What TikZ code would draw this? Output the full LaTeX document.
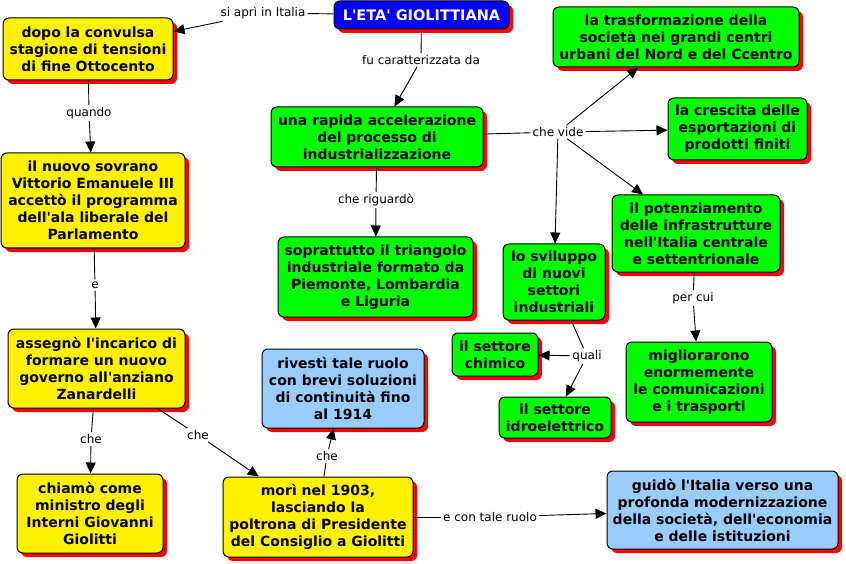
\documentclass[tikz,border=0pt]{standalone}
\usepackage{fontspec}
\setmainfont{DejaVu Sans}[Ligatures=TeXOff]
\usetikzlibrary{arrows.meta,shadows}

\begin{document}
\begin{tikzpicture}[x=1pt,y=-1pt,
    concept/.style={draw=black, line width=1pt, rounded corners=6pt, align=center,
      font=\fontsize{14}{17}\selectfont\bfseries, inner sep=1pt,
      general shadow={fill=red, draw=none, shadow xshift=4pt, shadow yshift=-4pt}},
    yellowbox/.style={concept, fill=yellow},
    greenbox/.style={concept, fill=green},
    skybox/.style={concept, fill={rgb,255:red,153;green,204;blue,255}},
    linkword/.style={font=\fontsize{12}{14}\selectfont, inner sep=2pt},
    conn/.style={line width=0.9pt},
    arr/.style={conn, -{Triangle[length=11pt,width=10pt]}}]
  \useasboundingbox (0,0) rectangle (846,564);

  % concepts
  \node[concept, fill=blue, text=white, minimum width=175pt, minimum height=28pt, font=\fontsize{14.5}{17}\selectfont\bfseries] (eta) at (421.5,15) {L'ETA' GIOLITTIANA};
  \node[yellowbox, minimum width=170pt, minimum height=62pt] (dopo) at (88,49) {dopo la convulsa\\stagione di tensioni\\di fine Ottocento};
  \node[yellowbox, minimum width=184pt, minimum height=95pt] (sovrano) at (93,200.5) {il nuovo sovrano\\Vittorio Emanuele III\\accettò il programma\\dell'ala liberale del\\Parlamento};
  \node[yellowbox, minimum width=177pt, minimum height=79pt] (incarico) at (96.5,368.5) {assegnò l'incarico di\\formare un nuovo\\governo all'anziano\\Zanardelli};
  \node[yellowbox, minimum width=146pt, minimum height=79pt] (chiamo) at (90,513.5) {chiamò come\\ministro degli\\Interni Giovanni\\Giolitti};
  \node[yellowbox, minimum width=190pt, minimum height=80pt] (mori) at (318,517) {morì nel 1903,\\lasciando la\\poltrona di Presidente\\del Consiglio a Giolitti};
  \node[skybox, minimum width=162pt, minimum height=79pt] (rivesti) at (343,388.5) {rivestì tale ruolo\\con brevi soluzioni\\di continuità fino\\al 1914};
  \node[skybox, minimum width=231pt, minimum height=78pt] (guido) at (722.5,510) {guidò l'Italia verso una\\profonda modernizzazione\\della società, dell'economia\\e delle istituzioni};
  \node[greenbox, minimum width=212pt, minimum height=60pt] (rapida) at (377,137) {una rapida accelerazione\\del processo di\\industrializzazione};
  \node[greenbox, minimum width=195pt, minimum height=80pt] (triangolo) at (375.5,277) {soprattutto il triangolo\\industriale formato da\\Piemonte, Lombardia\\e Liguria};
  \node[greenbox, minimum width=246pt, minimum height=60pt] (trasf) at (676,37) {la trasformazione della\\società nei grandi centri\\urbani del Nord e del Ccentro};
  \node[greenbox, minimum width=139pt, minimum height=62pt] (crescita) at (737.5,129) {la crescita delle\\esportazioni di\\prodotti finiti};
  \node[greenbox, minimum width=168pt, minimum height=77pt] (potenz) at (696,233.5) {il potenziamento\\delle infrastrutture\\nell'Italia centrale\\e settentrionale};
  \node[greenbox, minimum width=102pt, minimum height=76pt] (sviluppo) at (554,282) {lo sviluppo\\di nuovi\\settori\\industriali};
  \node[greenbox, minimum width=86pt, minimum height=43pt] (chimico) at (495,354.5) {il settore\\chimico};
  \node[greenbox, minimum width=112pt, minimum height=41pt] (idro) at (555,417.5) {il settore\\idroelettrico};
  \node[greenbox, minimum width=146pt, minimum height=80pt] (miglior) at (699,382) {migliorarono\\enormemente\\le comunicazioni\\e i trasporti};

  % linking words
  \node[linkword] (aprì) at (263,13) {si aprì in Italia};
  \node[linkword] (fu) at (421,60) {fu caratterizzata da};
  \node[linkword] (quando) at (89,113) {quando};
  \node[linkword] (e) at (95,285) {e};
  \node[linkword] (che1) at (91,439) {che};
  \node[linkword] (che2) at (198,435) {che};
  \node[linkword] (che3) at (327,456) {che};
  \node[linkword] (ruolo) at (490,517) {e con tale ruolo};
  \node[linkword] (riguardo) at (376,200) {che riguardò};
  \node[linkword] (vide) at (558,132) {che vide};
  \node[linkword] (quali) at (587,356) {quali};
  \node[linkword] (percui) at (693,298) {per cui};

  % connections
  \draw[conn] (eta) -- (aprì);
  \draw[arr] (aprì) -- (dopo);
  \draw[conn] (eta) -- (fu);
  \draw[arr] (fu) -- (rapida);
  \draw[conn] (dopo) -- (quando);
  \draw[arr] (quando) -- (sovrano);
  \draw[conn] (sovrano) -- (e);
  \draw[arr] (e) -- (incarico);
  \draw[conn] (incarico) -- (che1);
  \draw[arr] (che1) -- (chiamo);
  \draw[conn] (incarico) -- (che2);
  \draw[arr] (che2) -- (mori);
  \draw[conn] (mori) -- (che3);
  \draw[arr] (che3) -- (rivesti);
  \draw[conn] (mori) -- (ruolo);
  \draw[arr] (ruolo) -- (guido);
  \draw[conn] (rapida) -- (riguardo);
  \draw[arr] (riguardo) -- (triangolo);
  \draw[conn] (rapida) -- (vide);
  \draw[arr] (vide) -- (trasf);
  \draw[arr] (vide) -- (crescita);
  \draw[arr] (vide) -- (potenz);
  \draw[arr] (vide) -- (sviluppo);
  \draw[conn] (sviluppo) -- (quali);
  \draw[arr] (quali) -- (chimico);
  \draw[arr] (quali) -- (idro);
  \draw[conn] (potenz) -- (percui);
  \draw[arr] (percui) -- (miglior);
\end{tikzpicture}
\end{document}
